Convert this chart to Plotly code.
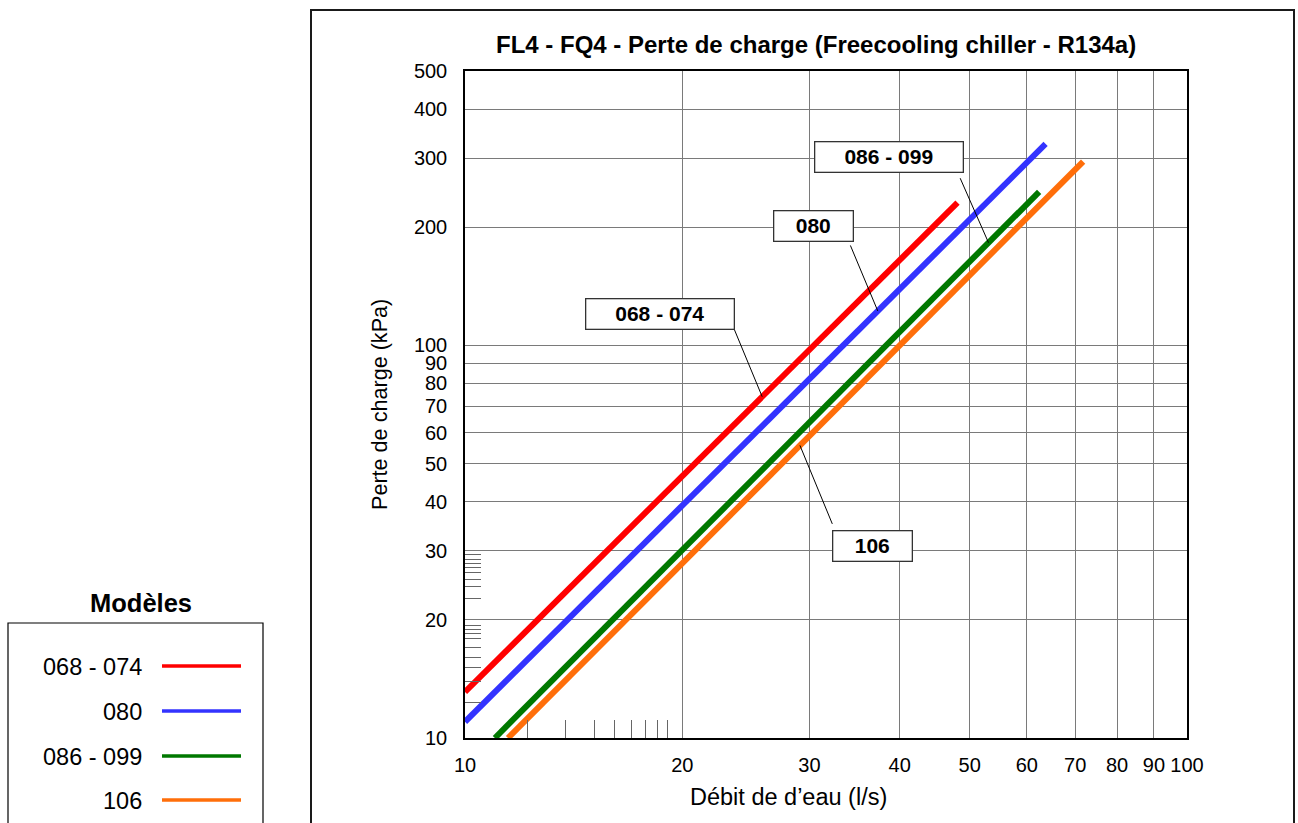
import numpy as np
import plotly.graph_objects as go

# ---------------- data ----------------
series_names = ["068 - 074", "080", "086 - 099", "106"]
series_colors = ["#ff0000", "#3333ff", "#007800", "#ff6e0a"]

flow_068_074 = [10.0, 48.1]
drop_068_074 = [13.1, 231.0]
flow_080 = [10.0, 63.7]
drop_080 = [11.0, 326.0]
flow_086_099 = [11.0, 62.4]
drop_086_099 = [10.0, 246.0]
flow_106 = [11.47, 71.8]
drop_106 = [10.0, 294.0]

series_flows = [flow_068_074, flow_080, flow_086_099, flow_106]
series_drops = [drop_068_074, drop_080, drop_086_099, drop_106]

# flow at which each callout label points onto its curve
label_flow = [25.8, 37.3, 53.1, 29.1]

x_ticks = [10, 20, 30, 40, 50, 60, 70, 80, 90, 100]
y_ticks = [10, 20, 30, 40, 50, 60, 70, 80, 90, 100, 200, 300, 400, 500]
x_minor = [12.2, 13.8, 15.1, 16.1, 17.0, 17.8, 18.5, 19.1]
y_minor = [12.3, 13.9, 15.1, 16.0, 17.0, 17.9, 18.5, 18.9, 19.4,
           22.6, 24.3, 25.4, 26.4, 27.2, 27.8, 28.5, 29.3]

title = "FL4 - FQ4 - Perte de charge (Freecooling chiller - R134a)"
x_title = "Débit de d’eau (l/s)"
y_title = "Perte de charge (kPa)"
legend_title = "Modèles"

# ---------------- layout geometry ----------------
W, H = 1298, 823
L, R, T, B = 465, 1187, 71, 738
FONT = "Liberation Sans, Arial, sans-serif"


def px(xp):
    return (xp - L) / (R - L)


def py(yp):
    return (B - yp) / (B - T)


fig = go.Figure()
for name, color, xs, ys in zip(series_names, series_colors, series_flows, series_drops):
    fig.add_trace(go.Scatter(x=xs, y=ys, mode="lines", name=name,
                             line=dict(color=color, width=6)))

axis_common = dict(
    type="log", showgrid=True, gridcolor="#7a7a7a", gridwidth=1,
    showline=True, linecolor="black", linewidth=1.5, mirror=True,
    ticks="", zeroline=False, tickfont=dict(size=20, family=FONT, color="black"),
)

fig.update_xaxes(range=[1, 2], tickvals=x_ticks, ticktext=[str(v) for v in x_ticks],
                 ticklabelstandoff=8,
                 minor=dict(tickmode="array", tickvals=x_minor, ticks="inside",
                            ticklen=18, tickcolor="#666", tickwidth=1.3, showgrid=False),
                 **axis_common)
fig.update_yaxes(range=[1, np.log10(500)], tickvals=y_ticks, ticktext=[str(v) for v in y_ticks],
                 ticklabelstandoff=12,
                 minor=dict(tickmode="array", tickvals=y_minor, ticks="inside",
                            ticklen=16, tickcolor="#666", tickwidth=1.3, showgrid=False),
                 **axis_common)

ann = []
ann.append(dict(text="<b>%s</b>" % title, x=px(816), y=py(44), xref="paper", yref="paper",
                showarrow=False, font=dict(size=24, family=FONT, color="black"),
                xanchor="center", yanchor="middle"))
ann.append(dict(text=x_title, x=px(788), y=py(797), xref="paper", yref="paper",
                showarrow=False, font=dict(size=23.5, family=FONT, color="black"),
                xanchor="center", yanchor="middle"))
ann.append(dict(text=y_title, x=px(379), y=py(405), xref="paper", yref="paper",
                showarrow=False, textangle=-90, font=dict(size=21.6, family=FONT, color="black"),
                xanchor="center", yanchor="middle"))

# callout boxes (centre in pixels, width) and leader offsets (tail relative to head)
box_centers = [(660, 314), (813, 226), (889, 157), (872, 546)]
box_widths = [147, 78, 147, 78]
leader_offsets = [(-29, -70), (-28, -67), (-29, -66), (33, 80)]

for i, name in enumerate(series_names):
    lx = label_flow[i]
    ly = 10 ** np.interp(np.log10(lx), np.log10(series_flows[i]), np.log10(series_drops[i]))
    ann.append(dict(text="", x=np.log10(lx), y=np.log10(ly), xref="x", yref="y",
                    showarrow=True, arrowhead=0, arrowwidth=1, arrowcolor="black",
                    ax=leader_offsets[i][0], ay=leader_offsets[i][1], standoff=0))
    cx, cy = box_centers[i]
    ann.append(dict(text="<b>%s</b>" % name, x=px(cx), y=py(cy), xref="paper", yref="paper",
                    showarrow=False, font=dict(size=21, family=FONT, color="black"),
                    bgcolor="white", bordercolor="#333", borderwidth=1.3, borderpad=0,
                    width=box_widths[i], height=29, xanchor="center", yanchor="middle"))

# legend (manual, text left of line)
ann.append(dict(text="<b>%s</b>" % legend_title, x=px(141), y=py(603), xref="paper", yref="paper",
                showarrow=False, font=dict(size=25.5, family=FONT, color="black"),
                xanchor="center", yanchor="middle"))
legend_rows = [667, 712, 757, 801]
shapes = []
for name, color, yrow in zip(series_names, series_colors, legend_rows):
    ann.append(dict(text=name, x=px(144), y=py(yrow), xref="paper", yref="paper",
                    showarrow=False, font=dict(size=23.5, family=FONT, color="black"),
                    xanchor="right", yanchor="middle"))
    shapes.append(dict(type="line", xref="paper", yref="paper",
                       x0=px(162), x1=px(241), y0=py(yrow - 1), y1=py(yrow - 1),
                       line=dict(color=color, width=3.5)))

shapes.append(dict(type="rect", xref="paper", yref="paper",
                   x0=px(8), x1=px(263), y0=py(623), y1=py(850),
                   line=dict(color="black", width=1.2), fillcolor="rgba(0,0,0,0)"))
shapes.append(dict(type="rect", xref="paper", yref="paper",
                   x0=px(311), x1=px(1294), y0=py(10), y1=py(850),
                   line=dict(color="#1a1a1a", width=2), fillcolor="rgba(0,0,0,0)"))

fig.update_layout(width=W, height=H, margin=dict(l=L, r=W - R, t=T, b=H - B, pad=0),
                  paper_bgcolor="white", plot_bgcolor="white", showlegend=False,
                  font=dict(family=FONT, color="black"), annotations=ann, shapes=shapes)

fig.write_html("out.html")
